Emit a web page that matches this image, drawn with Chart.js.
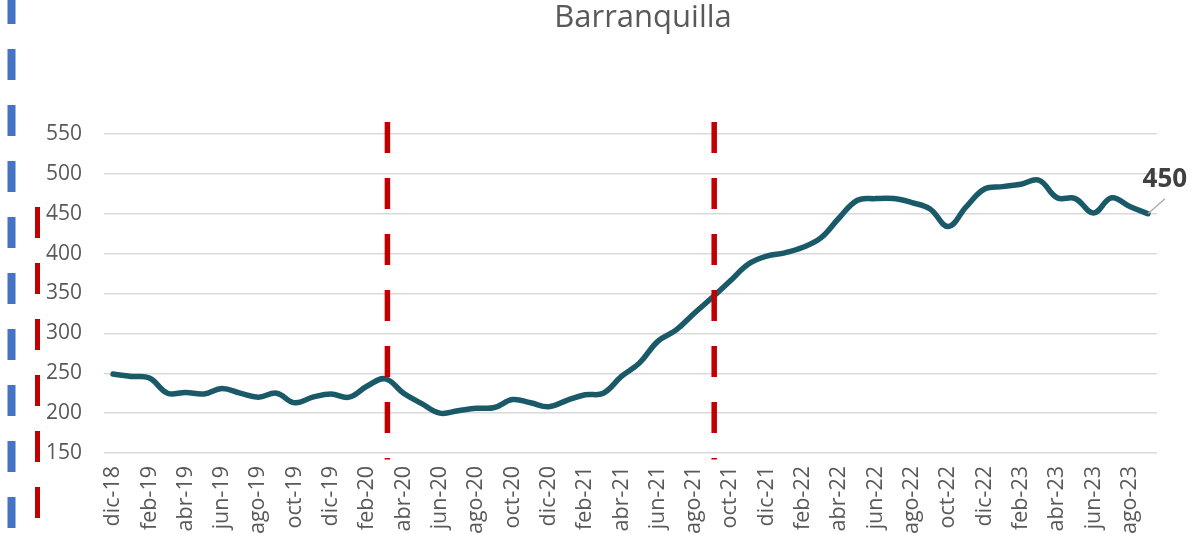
<!DOCTYPE html>
<html>
<head>
<meta charset="utf-8">
<script src="https://cdn.jsdelivr.net/npm/chart.js@4.4.1/dist/chart.umd.min.js"></script>
<style>
  html, body { margin: 0; padding: 0; background: #fff; }
  #grafico { display: block; }
</style>
</head>
<body>
<canvas id="grafico" width="1195" height="534"></canvas>
<script>
// meses dic-18 .. sep-23
meses = ['dic-18',
	'ene-19', 'feb-19', 'mar-19', 'abr-19', 'may-19', 'jun-19', 'jul-19', 'ago-19', 'sep-19', 'oct-19', 'nov-19', 'dic-19',
	'ene-20', 'feb-20', 'mar-20', 'abr-20', 'may-20', 'jun-20', 'jul-20', 'ago-20', 'sep-20', 'oct-20', 'nov-20', 'dic-20',
	'ene-21', 'feb-21', 'mar-21', 'abr-21', 'may-21', 'jun-21', 'jul-21', 'ago-21', 'sep-21', 'oct-21', 'nov-21', 'dic-21',
	'ene-22', 'feb-22', 'mar-22', 'abr-22', 'may-22', 'jun-22', 'jul-22', 'ago-22', 'sep-22', 'oct-22', 'nov-22', 'dic-22',
	'ene-23', 'feb-23', 'mar-23', 'abr-23', 'may-23', 'jun-23', 'jul-23', 'ago-23', 'sep-23']

valores = [249,
	246, 244, 225, 226, 224, 231, 225, 220, 225, 213, 220, 224,
	220, 234, 243, 225, 212, 200, 203, 206, 207, 217, 213, 208,
	216, 223, 225, 246, 263, 290, 304, 325, 345, 366, 387, 397,
	401, 408, 420, 445, 467, 469, 469, 464, 456, 434, 459, 481,
	484, 487, 492, 470, 469, 451, 470, 459, 450]

ticksY = [150, 200, 250, 300, 350, 400, 450, 500, 550]
marcas = ['mar-20', 'sep-21']
rangoMarcas = [142, 565]
titulo = 'Barranquilla'

fuente = '"Open Sans", "Noto Sans", sans-serif'
gris = '#595959'

const decoracion = {
	id: 'decoracion',
	afterDatasetsDraw(chart) {
		const ctx = chart.ctx
		const x = chart.scales.x
		const y = chart.scales.y
		ctx.save()

		// titulo
		ctx.fillStyle = gris
		ctx.font = '31px ' + fuente
		ctx.textAlign = 'center'
		ctx.textBaseline = 'alphabetic'
		ctx.fillText(titulo, 643, 27)

		// lineas rojas verticales
		ctx.strokeStyle = '#C00000'
		ctx.lineWidth = 5.5
		ctx.setLineDash([31, 25])
		marcas.forEach(function (m) {
			const px = x.getPixelForValue(meses.indexOf(m)) + 2
			ctx.beginPath()
			ctx.moveTo(px, y.getPixelForValue(rangoMarcas[1]))
			ctx.lineTo(px, y.getPixelForValue(rangoMarcas[0]))
			ctx.stroke()
		})

		// restos de leyenda a la izquierda
		ctx.strokeStyle = '#4472C4'
		ctx.lineWidth = 8
		ctx.beginPath()
		ctx.moveTo(11.5, -7)
		ctx.lineTo(11.5, 534)
		ctx.stroke()
		ctx.strokeStyle = '#C00000'
		ctx.lineWidth = 5
		ctx.beginPath()
		ctx.moveTo(37.5, 207)
		ctx.lineTo(37.5, 520)
		ctx.stroke()
		ctx.setLineDash([])

		// etiqueta del ultimo valor
		const i = valores.length - 1
		const px = x.getPixelForValue(i)
		const py = y.getPixelForValue(valores[i])
		ctx.strokeStyle = '#A6A6A6'
		ctx.lineWidth = 1.2
		ctx.beginPath()
		ctx.moveTo(px, py)
		ctx.lineTo(px + 17, py - 15)
		ctx.stroke()
		ctx.fillStyle = '#404040'
		ctx.font = 'bold 26px ' + fuente
		ctx.textAlign = 'center'
		ctx.fillText(String(valores[i]), px + 17, py - 27)
		ctx.restore()
	}
}

new Chart(document.getElementById('grafico').getContext('2d'), {
	type: 'line',
	data: {
		labels: meses,
		datasets: [{
			label: titulo,
			data: valores,
			borderColor: '#1A5A68',
			borderWidth: 5.5,
			pointRadius: 0,
			tension: 0.4,
			fill: false,
			borderCapStyle: 'round',
			borderJoinStyle: 'round',
		}]
	},
	options: {
		responsive: false,
		animation: false,
		layout: {
			padding: { top: 134, right: 38, bottom: 0, left: 0 }
		},
		plugins: {
			legend: { display: false },
			title: { display: false },
			tooltip: { enabled: false },
		},
		scales: {
			x: {
				offset: true,
				grid: { display: false, drawTicks: false },
				border: { display: false },
				afterFit: function (scale) { scale.height = 81 },
				ticks: {
					autoSkip: false,
					maxRotation: 90,
					minRotation: 90,
					padding: 13,
					color: gris,
					font: { family: fuente, size: 21.5 },
					callback: function (val, index) {
						return index % 2 === 0 ? meses[index] : ''
					}
				}
			},
			y: {
				min: 150,
				max: 550,
				afterFit: function (scale) { scale.width = 104 },
				afterBuildTicks: function (scale) {
					scale.ticks = ticksY.map(function (v) { return { value: v } })
				},
				grid: { color: '#D9D9D9', lineWidth: 1.5, drawTicks: false },
				border: { display: false },
				ticks: {
					padding: 22,
					color: gris,
					font: { family: fuente, size: 21 },
				}
			}
		}
	},
	plugins: [decoracion]
})
</script>
</body>
</html>
